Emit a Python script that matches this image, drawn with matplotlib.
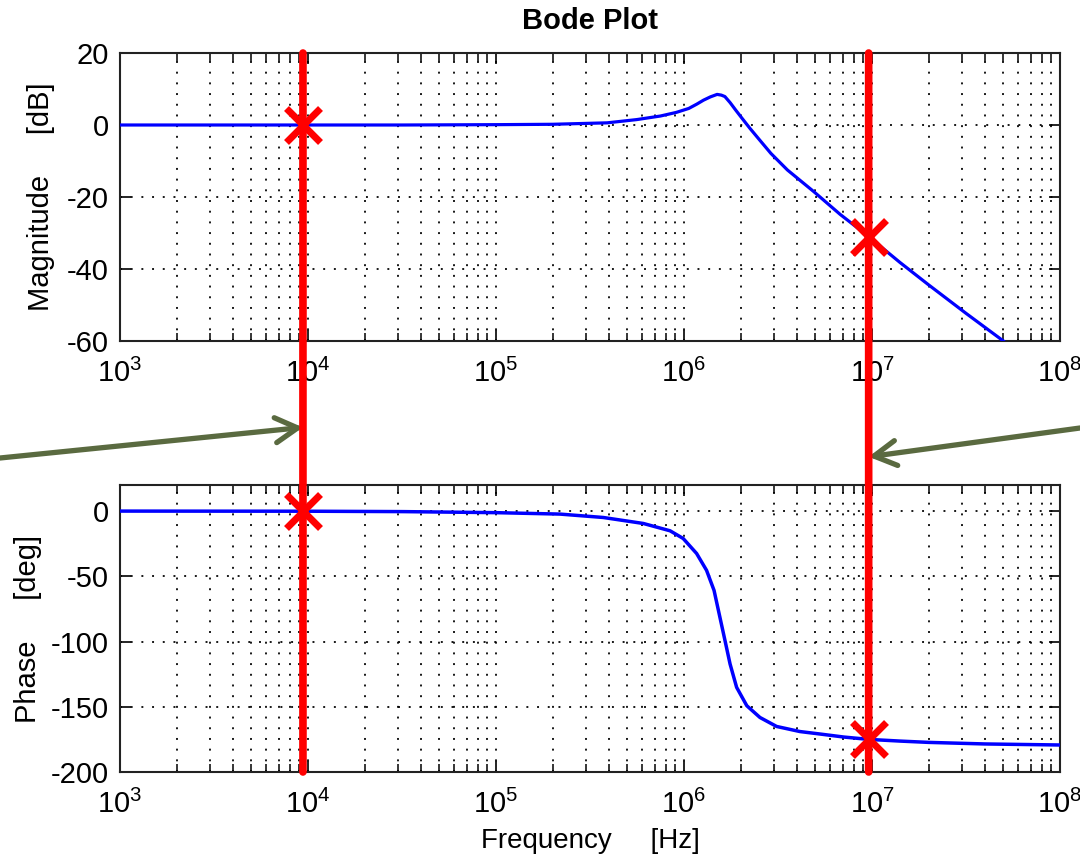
import matplotlib
matplotlib.use("Agg")
import matplotlib.pyplot as plt
from matplotlib.patches import ConnectionPatch
from matplotlib.ticker import LogLocator, NullFormatter, NullLocator
import numpy as np

plt.rcParams['font.family'] = ['Liberation Sans', 'DejaVu Sans']
plt.rcParams['mathtext.fontset'] = 'custom'
plt.rcParams['mathtext.rm'] = 'Liberation Sans'
plt.rcParams['mathtext.it'] = 'Liberation Sans'
plt.rcParams['mathtext.bf'] = 'Liberation Sans:bold'
plt.rcParams['axes.unicode_minus'] = False

# ---- data ----
mag_freq = [1e3, 1e4, 3.2e4, 1.05e5, 2.0e5, 3.9e5, 5.6e5, 7.5e5, 9.1e5, 1.06e6,
            1.17e6, 1.27e6, 1.38e6, 1.5e6, 1.58e6, 1.65e6, 1.76e6, 1.88e6,
            2.04e6, 2.24e6, 2.51e6, 2.9e6, 3.55e6, 4.9e6, 6.76e6, 9.6e6,
            1.41e7, 2.0e7, 3.16e7, 5.0e7]
mag_db = [0.0, 0.0, 0.0, 0.1, 0.2, 0.6, 1.5, 2.5, 3.5, 4.6,
          5.8, 6.9, 7.8, 8.5, 8.3, 7.9, 6.2, 4.2,
          1.8, -0.9, -4.0, -7.9, -12.5, -18.5, -24.8, -31.0,
          -38.2, -44.4, -52.3, -60.0]

ph_freq = [1e3, 1e4, 3.2e4, 1.0e5, 2.19e5, 3.72e5, 6.08e5, 8.43e5, 9.9e5,
           1.167e6, 1.318e6, 1.445e6, 1.552e6, 1.652e6, 1.758e6, 1.905e6,
           2.158e6, 2.535e6, 3.11e6, 4.14e6, 5.37e6, 7.08e6, 9.6e6,
           1.41e7, 2.0e7, 3.98e7, 1e8]
ph_deg = [0.0, -0.1, -0.4, -1.2, -2.3, -4.9, -9.5, -15.1, -21.0,
          -32.5, -45.4, -60.8, -81.3, -99.2, -117.2, -135.1,
          -149.2, -158.2, -165.1, -169.0, -171.0, -173.2, -175.0,
          -176.3, -177.3, -178.5, -179.3]

cursor_freq = [9.4e3, 9.6e6]
cursor_mag = [0.0, -31.0]
cursor_phase = [0.0, -175.0]

xticks = [1e3, 1e4, 1e5, 1e6, 1e7, 1e8]
mag_ticks = [-60, -40, -20, 0, 20]
ph_ticks = [-200, -150, -100, -50, 0]

# ---- figure ----
W, H = 1080, 859
fig = plt.figure(figsize=(W / 100, H / 100), dpi=100)
ax1 = fig.add_axes([120 / W, 1 - 341 / H, 940 / W, 288 / H])
ax2 = fig.add_axes([120 / W, 1 - 772 / H, 940 / W, 287 / H])

blue = '#0000ff'
red = '#ff0000'
green = '#5a6a40'

ax1.plot(mag_freq, mag_db, color=blue, lw=2.3, solid_joinstyle='round', zorder=3)
ax2.plot(ph_freq, ph_deg, color=blue, lw=2.5, solid_joinstyle='round', zorder=3)

grid_style = dict(color='black', lw=1.4, linestyle=(0, (1, 4.5)), alpha=0.9)
for ax, yl, yt in [(ax1, (-60, 20), mag_ticks), (ax2, (-200, 20), ph_ticks)]:
    ax.set_xscale('log')
    ax.set_xlim(1e3, 1e8)
    ax.set_ylim(*yl)
    ax.set_xticks(xticks)
    ax.xaxis.set_minor_locator(LogLocator(base=10, subs=np.arange(2, 10)))
    ax.xaxis.set_minor_formatter(NullFormatter())
    ax.set_yticks(yt)
    ax.yaxis.set_minor_locator(NullLocator())
    ax.grid(True, which='major', axis='both', **grid_style)
    ax.grid(True, which='minor', axis='x', **grid_style)
    ax.tick_params(which='both', direction='in', top=True, right=True, color='black')
    ax.tick_params(which='major', length=8, width=1.2, labelsize=21)
    ax.tick_params(which='minor', length=6, width=1.1)
    ax.tick_params(axis='x', which='major', pad=13)
    ax.tick_params(axis='y', which='major', pad=8)
    for s in ax.spines.values():
        s.set_linewidth(1.5)
        s.set_color('#222222')

ax1.set_title('Bode Plot', fontsize=21, fontweight='bold', pad=17)
ax1.set_ylabel('Magnitude     [dB]', fontsize=21)
ax1.yaxis.set_label_coords(-0.069, 0.5)
ax2.set_ylabel('Phase     [deg]', fontsize=21)
ax2.yaxis.set_label_coords(-0.083, 0.5)
ax2.set_xlabel('Frequency     [Hz]', fontsize=20)
ax2.xaxis.set_label_coords(0.5, -0.195)

# cursor lines spanning both axes and the gap
for f, m, p in zip(cursor_freq, cursor_mag, cursor_phase):
    con = ConnectionPatch(xyA=(f, 20), coordsA=ax1.transData,
                          xyB=(f, -200), coordsB=ax2.transData,
                          color=red, lw=5.5, zorder=5)
    fig.add_artist(con)
    ax1.plot([f], [m], marker='x', color=red, ms=24, mew=5, zorder=6, clip_on=False)
    ax2.plot([f], [p], marker='x', color=red, ms=24, mew=5, zorder=6, clip_on=False)

# arrows pointing at the cursor lines
arrow_props = dict(arrowstyle='->,head_length=0.8,head_width=0.45', color=green,
                   lw=3.8, mutation_scale=20, shrinkA=0, shrinkB=0)
ax1.annotate('', xy=(cursor_freq[0], -0.30), xycoords=ax1.get_xaxis_transform(),
             xytext=(0.0, 1 - 458 / H), textcoords='figure fraction',
             arrowprops=arrow_props, annotation_clip=False)
ax1.annotate('', xy=(cursor_freq[1], -0.402), xycoords=ax1.get_xaxis_transform(),
             xytext=(1.0, 1 - 428 / H), textcoords='figure fraction',
             arrowprops=arrow_props, annotation_clip=False)

fig.savefig('out.png', dpi=100)
